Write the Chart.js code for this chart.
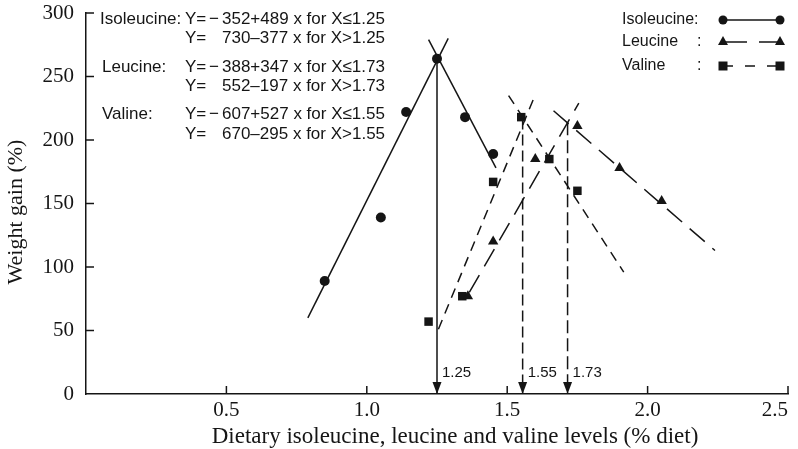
<!DOCTYPE html>
<html>
<head>
<meta charset="utf-8">
<script src="https://cdn.jsdelivr.net/npm/chart.js@4.4.1/dist/chart.umd.min.js"></script>
<style>
  html, body { margin: 0; padding: 0; background: #fff; }
</style>
</head>
<body>
<canvas id="chart" width="798" height="449"></canvas>
<script>
// Weight gain vs dietary isoleucine / leucine / valine levels

// Observed points
const isoX = [0.85, 1.05, 1.14, 1.25, 1.35, 1.45];
const isoY = [89, 139, 222, 264, 218, 189];
const leuX = [1.36, 1.45, 1.60, 1.75, 1.90, 2.05];
const leuY = [77, 120, 185, 211, 178, 152];
const valX = [1.22, 1.34, 1.45, 1.55, 1.65, 1.75];
const valY = [57, 77, 167, 218, 185, 160];

// Broken-line fits (end points as drawn)
const isoRiseX = [0.79, 1.29], isoRiseY = [60, 280];
const isoFallX = [1.22, 1.46], isoFallY = [279, 178];
const leuRiseX = [1.365, 1.755], leuRiseY = [80, 229];
const leuFallX = [1.665, 2.24], leuFallY = [223, 113];
const valRiseX = [1.255, 1.595], valRiseY = [51, 233];
const valFallX = [1.505, 1.915], valFallY = [235, 96];

// Break points (arrows)
const arrowX = [1.25, 1.555, 1.715];
const arrowTop = [264, 217, 214];
const arrowLabels = ['1.25', '1.55', '1.73'];

// Axis ticks
const xTicks = [0.5, 1.0, 1.5, 2.0, 2.5];
const yTicks = [0, 50, 100, 150, 200, 250, 300];

// Regression equations
const eqNames = ['Isoleucine:', '', 'Leucine:', '', 'Valine:', ''];
const eqSign = ['\u2212', '', '\u2212', '', '\u2212', ''];
const eqBody = [
    '352+489 x for X\u22641.25',
    '730\u2013377 x for X>1.25',
    '388+347 x for X\u22641.73',
    '552\u2013197 x for X>1.73',
    '607+527 x for X\u22641.55',
    '670\u2013295 x for X>1.55'
];

const ink = '#151515';
const serif = '"Liberation Serif", "Times New Roman", serif';
const sans = '"Liberation Sans", Arial, sans-serif';

Chart.defaults.font.family = serif;
Chart.defaults.color = ink;

function pts(xs, ys) {
    return xs.map((v, i) => ({ x: v, y: ys[i] }));
}

function fitLine(xs, ys, dash) {
    return {
        type: 'line',
        data: pts(xs, ys),
        borderColor: ink,
        borderWidth: 1.5,
        borderDash: dash,
        pointRadius: 0,
        fill: false,
        tension: 0
    };
}

function markers(xs, ys, style, r) {
    return {
        type: 'scatter',
        data: pts(xs, ys),
        pointStyle: style,
        pointRadius: r,
        backgroundColor: ink,
        borderColor: ink,
        borderWidth: 0
    };
}

const arrowDash = [[], [11, 5], [13, 5]];
const arrowLines = arrowX.map((v, i) => fitLine([v, v], [arrowTop[i], 0], arrowDash[i]));

// small drawing helpers for the plugin
function seg(ctx, x1, y1, x2, y2) {
    ctx.beginPath();
    ctx.moveTo(x1, y1);
    ctx.lineTo(x2, y2);
    ctx.stroke();
}

function mark(ctx, style, cx, cy) {
    ctx.beginPath();
    if (style === 'circle') {
        ctx.arc(cx, cy, 4.5, 0, Math.PI * 2);
    } else if (style === 'triangle') {
        ctx.moveTo(cx, cy - 6);
        ctx.lineTo(cx + 5, cy + 3);
        ctx.lineTo(cx - 5, cy + 3);
        ctx.closePath();
    } else {
        ctx.rect(cx - 4.5, cy - 4.5, 9, 9);
    }
    ctx.fill();
}

const decor = {
    id: 'decor',
    afterDraw(chart) {
        const { ctx, chartArea: a } = chart;
        const x = chart.scales.x, y = chart.scales.y;
        ctx.save();
        ctx.strokeStyle = ink;
        ctx.fillStyle = ink;
        ctx.lineWidth = 1.5;

        // inward tick marks
        yTicks.forEach(v => {
            if (v === 0) return;
            const py = y.getPixelForValue(v);
            seg(ctx, a.left, py, a.left + 8, py);
        });
        xTicks.forEach(v => {
            const px = x.getPixelForValue(v);
            seg(ctx, px, a.bottom, px, a.bottom - 8);
        });

        // arrow heads + labels
        ctx.font = '15px ' + sans;
        ctx.textBaseline = 'middle';
        ctx.textAlign = 'left';
        arrowX.forEach((v, i) => {
            const px = x.getPixelForValue(v);
            const py = y.getPixelForValue(0);
            ctx.beginPath();
            ctx.moveTo(px, py);
            ctx.lineTo(px - 4.5, py - 12);
            ctx.lineTo(px + 4.5, py - 12);
            ctx.closePath();
            ctx.fill();
            ctx.fillText(arrowLabels[i], px + 5, py - 21);
        });

        // axis titles
        ctx.font = '23px ' + serif;
        ctx.textAlign = 'center';
        ctx.fillText('Dietary isoleucine, leucine and valine levels (% diet)', 455, 437);
        ctx.font = '22px ' + serif;
        ctx.save();
        ctx.translate(16, 212);
        ctx.rotate(-Math.PI / 2);
        ctx.fillText('Weight gain (%)', 0, 0);
        ctx.restore();

        // equations
        const eqY = [19, 38, 67, 86, 114, 134];
        ctx.font = '17px ' + sans;
        ctx.textAlign = 'left';
        eqBody.forEach((txt, i) => {
            if (eqNames[i]) ctx.fillText(eqNames[i], i === 0 ? 100 : 102, eqY[i]);
            ctx.fillText('Y=', 185, eqY[i]);
            if (eqSign[i]) ctx.fillText(eqSign[i], 209, eqY[i]);
            ctx.fillText(txt, 222, eqY[i]);
        });

        // legend
        const legNames = ['Isoleucine:', 'Leucine', 'Valine'];
        const legStyles = ['circle', 'triangle', 'rect'];
        const legDash = [[], [24, 12], [10, 12]];
        const legY = [20, 42, 66];
        ctx.font = '16px ' + sans;
        legNames.forEach((nm, i) => {
            ctx.fillText(nm, 622, legY[i]);
            if (i > 0) ctx.fillText(':', 697, legY[i]);
            ctx.setLineDash(legDash[i]);
            seg(ctx, 723, legY[i], 780, legY[i]);
            ctx.setLineDash([]);
            mark(ctx, legStyles[i], 723, legY[i]);
            mark(ctx, legStyles[i], 780, legY[i]);
        });

        ctx.restore();
    }
};

new Chart(document.getElementById('chart'), {
    type: 'scatter',
    data: {
        datasets: [
            fitLine(isoRiseX, isoRiseY, []),
            fitLine(isoFallX, isoFallY, []),
            fitLine(leuRiseX, leuRiseY, [20, 10]),
            fitLine(leuFallX, leuFallY, [20, 10]),
            fitLine(valRiseX, valRiseY, [10, 7]),
            fitLine(valFallX, valFallY, [10, 7]),
            ...arrowLines,
            markers(isoX, isoY, 'circle', 5),
            markers(leuX, leuY, 'triangle', 6),
            markers(valX, valY, 'rect', 6)
        ]
    },
    options: {
        responsive: false,
        animation: false,
        layout: { padding: { left: 0, right: 10, top: 13, bottom: 0 } },
        plugins: {
            legend: { display: false },
            tooltip: { enabled: false }
        },
        scales: {
            x: {
                type: 'linear',
                min: 0,
                max: 2.5,
                afterBuildTicks: s => { s.ticks = [0].concat(xTicks).map(v => ({ value: v })); },
                ticks: {
                    callback: v => (v === 0 ? '' : v.toFixed(1)),
                    font: { size: 21 },
                    color: ink,
                    padding: 4,
                    align: 'inner',
                    maxRotation: 0
                },
                grid: { display: false, drawTicks: false },
                border: { display: true, color: ink, width: 1.5 },
                afterFit: s => { s.height = 55; s.paddingLeft = 0; s.paddingRight = 0; }
            },
            y: {
                min: 0,
                max: 300,
                afterBuildTicks: s => { s.ticks = yTicks.map(v => ({ value: v })); },
                ticks: {
                    font: { size: 21 },
                    color: ink,
                    padding: 12
                },
                grid: { display: false, drawTicks: false },
                border: { display: true, color: ink, width: 1.5 },
                afterFit: s => { s.width = 86; s.paddingTop = 0; s.paddingBottom = 0; }
            }
        }
    },
    plugins: [decor]
});
</script>
</body>
</html>
